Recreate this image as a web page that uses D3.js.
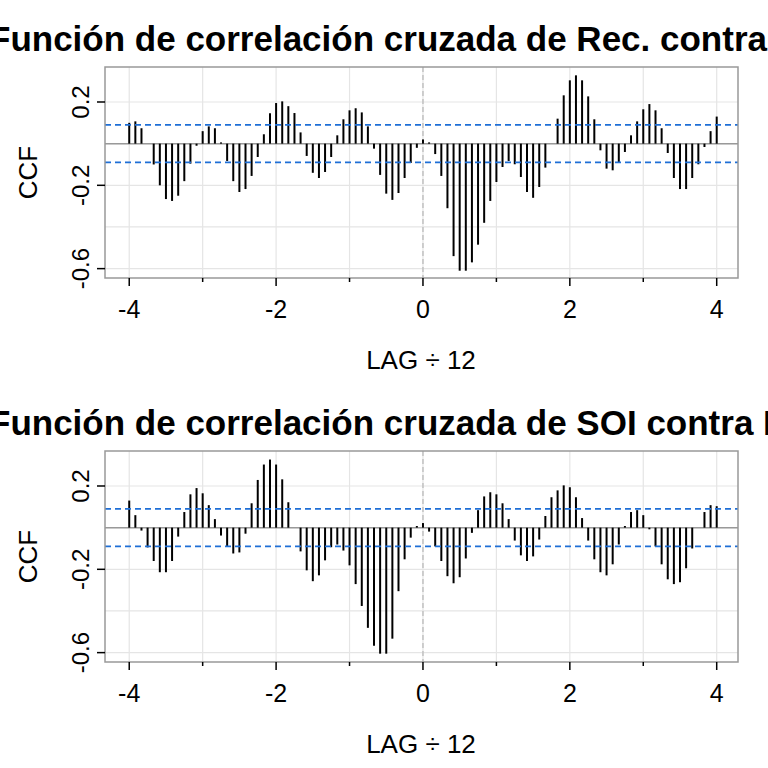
<!DOCTYPE html>
<html>
<head>
<meta charset="utf-8">
<script src="https://cdn.jsdelivr.net/npm/d3@7"></script>
<style>
  body { margin: 0; background: #fff; }
  text { font-family: "Liberation Sans", Arial, sans-serif; }
</style>
</head>
<body>
<div id="chart"></div>
<script>
// lags -48..48, shown as lag / 12
const lags = d3.range(-48, 49);

const ccfRecSoi = [
  0.10, 0.107, 0.074, 0.0, -0.10, -0.20, -0.266, -0.275, -0.25, -0.18, -0.096, -0.01,
  0.06, 0.083, 0.074, 0.006, -0.083, -0.18, -0.232, -0.218, -0.155, -0.064, 0.045, 0.146,
  0.195, 0.203, 0.18, 0.147, 0.054, -0.059, -0.14, -0.165, -0.136, -0.064, 0.04, 0.117,
  0.16, 0.17, 0.15, 0.083, -0.024, -0.15, -0.24, -0.27, -0.237, -0.165, -0.093, -0.02,
  0.02,
  0.006, -0.05, -0.155, -0.31, -0.54, -0.61, -0.61, -0.57, -0.485, -0.38, -0.275, -0.184,
  -0.112, -0.083, -0.099, -0.16, -0.232, -0.26, -0.208, -0.115, 0.0, 0.12, 0.232, 0.304,
  0.328, 0.304, 0.227, 0.117, -0.032, -0.12, -0.128, -0.093, -0.04, 0.04, 0.107, 0.165,
  0.19, 0.16, 0.074, -0.045, -0.165, -0.218, -0.218, -0.165, -0.099, -0.016, 0.06, 0.13
];

const ccfSoiRec = [
  0.13, 0.06, -0.014, -0.095, -0.16, -0.214, -0.214, -0.16, -0.043, 0.075, 0.16, 0.19,
  0.165, 0.108, 0.041, -0.038, -0.09, -0.124, -0.119, -0.029, 0.117, 0.229, 0.303, 0.327,
  0.303, 0.232, 0.122, 0.0, -0.114, -0.205, -0.257, -0.229, -0.157, -0.094, -0.081, -0.11,
  -0.181, -0.271, -0.376, -0.481, -0.567, -0.605, -0.605, -0.533, -0.305, -0.152, -0.048, 0.008,
  0.022,
  -0.019, -0.09, -0.16, -0.233, -0.267, -0.238, -0.148, -0.025, 0.084, 0.15, 0.17, 0.16,
  0.117, 0.041, -0.062, -0.133, -0.16, -0.138, -0.057, 0.056, 0.146, 0.179, 0.203, 0.194,
  0.146, 0.046, -0.062, -0.152, -0.214, -0.229, -0.176, -0.081, 0.008, 0.075, 0.084, 0.06,
  -0.008, -0.09, -0.176, -0.248, -0.271, -0.262, -0.195, -0.1, 0.0, 0.075, 0.108, 0.103
];

const ciBound = 0.09;
const xTicks = [-4, -2, 0, 2, 4];
const xMinor = [-3, -1, 1, 3];
const yTicks = [0.2, -0.2, -0.6];
const yGrid = [0.2, 0, -0.2, -0.4, -0.6];

const panels = [
  { title: 'Función de correlación cruzada de Rec. contra SOI', values: ccfRecSoi, top: 67 },
  { title: 'Función de correlación cruzada de SOI contra Rec.', values: ccfSoiRec, top: 451 }
];

const svg = d3.select('#chart').append('svg').attr('width', 768).attr('height', 768);

const left = 105, right = 738, plotH = 211;
const x = d3.scaleLinear().domain([-4.33, 4.29]).range([left, right]);

panels.forEach((p) => {
  const y = d3.scaleLinear().domain([-0.645, 0.368]).range([p.top + plotH, p.top]);
  const g = svg.append('g');

  // Title
  g.append('text')
    .attr('x', 413).attr('y', p.top - 16)
    .attr('text-anchor', 'middle')
    .style('font-size', '35px').style('font-weight', 'bold')
    .text(p.title);

  // Grid
  g.selectAll('.vg').data(d3.range(-4, 5)).enter().append('line')
    .attr('x1', (d) => x(d)).attr('x2', (d) => x(d))
    .attr('y1', p.top).attr('y2', p.top + plotH)
    .attr('stroke', '#e5e5e5').attr('stroke-width', 1.2);
  g.selectAll('.hg').data(yGrid).enter().append('line')
    .attr('x1', left).attr('x2', right)
    .attr('y1', (d) => y(d)).attr('y2', (d) => y(d))
    .attr('stroke', '#e5e5e5').attr('stroke-width', 1.2);

  // Lag 0 dashed line
  g.append('line')
    .attr('x1', x(0)).attr('x2', x(0))
    .attr('y1', p.top).attr('y2', p.top + plotH)
    .attr('stroke', '#bbb').attr('stroke-width', 1.3)
    .attr('stroke-dasharray', '5,3');

  // Zero line
  g.append('line')
    .attr('x1', left).attr('x2', right)
    .attr('y1', y(0)).attr('y2', y(0))
    .attr('stroke', '#999').attr('stroke-width', 1.5);

  // Bars
  g.selectAll('.bar').data(lags).enter().append('line')
    .attr('x1', (d) => x(d / 12)).attr('x2', (d) => x(d / 12))
    .attr('y1', y(0)).attr('y2', (d, i) => y(p.values[i]))
    .attr('stroke', '#000').attr('stroke-width', 2);

  // Confidence bounds
  [ciBound, -ciBound].forEach((b) => {
    g.append('line')
      .attr('x1', left).attr('x2', right)
      .attr('y1', y(b)).attr('y2', y(b))
      .attr('stroke', '#1f6fd6').attr('stroke-width', 1.6)
      .attr('stroke-dasharray', '6,4');
  });

  // Frame
  g.append('rect')
    .attr('x', left).attr('y', p.top)
    .attr('width', right - left).attr('height', plotH)
    .attr('fill', 'none').attr('stroke', '#999').attr('stroke-width', 1.5);

  // X ticks
  g.selectAll('.xt').data(xTicks).enter().append('line')
    .attr('x1', (d) => x(d)).attr('x2', (d) => x(d))
    .attr('y1', p.top + plotH).attr('y2', p.top + plotH + 8)
    .attr('stroke', '#000').attr('stroke-width', 1.5);
  g.selectAll('.xm').data(xMinor).enter().append('line')
    .attr('x1', (d) => x(d)).attr('x2', (d) => x(d))
    .attr('y1', p.top + plotH).attr('y2', p.top + plotH + 4)
    .attr('stroke', '#000').attr('stroke-width', 1.5);
  g.selectAll('.xl').data(xTicks).enter().append('text')
    .attr('x', (d) => x(d)).attr('y', p.top + plotH + 40)
    .attr('text-anchor', 'middle')
    .style('font-size', '25px')
    .text((d) => (d < 0 ? '-' + Math.abs(d) : d));
  g.append('text')
    .attr('x', 421).attr('y', p.top + plotH + 91)
    .attr('text-anchor', 'middle')
    .style('font-size', '26px')
    .text('LAG ÷ 12');

  // Y ticks
  g.selectAll('.yt').data(yTicks).enter().append('line')
    .attr('x1', left - 8).attr('x2', left)
    .attr('y1', (d) => y(d)).attr('y2', (d) => y(d))
    .attr('stroke', '#000').attr('stroke-width', 1.5);
  g.selectAll('.yl').data(yTicks).enter().append('text')
    .attr('transform', (d) => 'translate(' + (left - 16) + ',' + y(d) + ') rotate(-90)')
    .attr('text-anchor', 'middle')
    .style('font-size', '24px')
    .text((d) => d3.format('.1f')(d).replace('−', '-'));
  g.append('text')
    .attr('transform', 'translate(37,' + (p.top + plotH / 2) + ') rotate(-90)')
    .attr('text-anchor', 'middle')
    .style('font-size', '26px')
    .text('CCF');
});
</script>
</body>
</html>
